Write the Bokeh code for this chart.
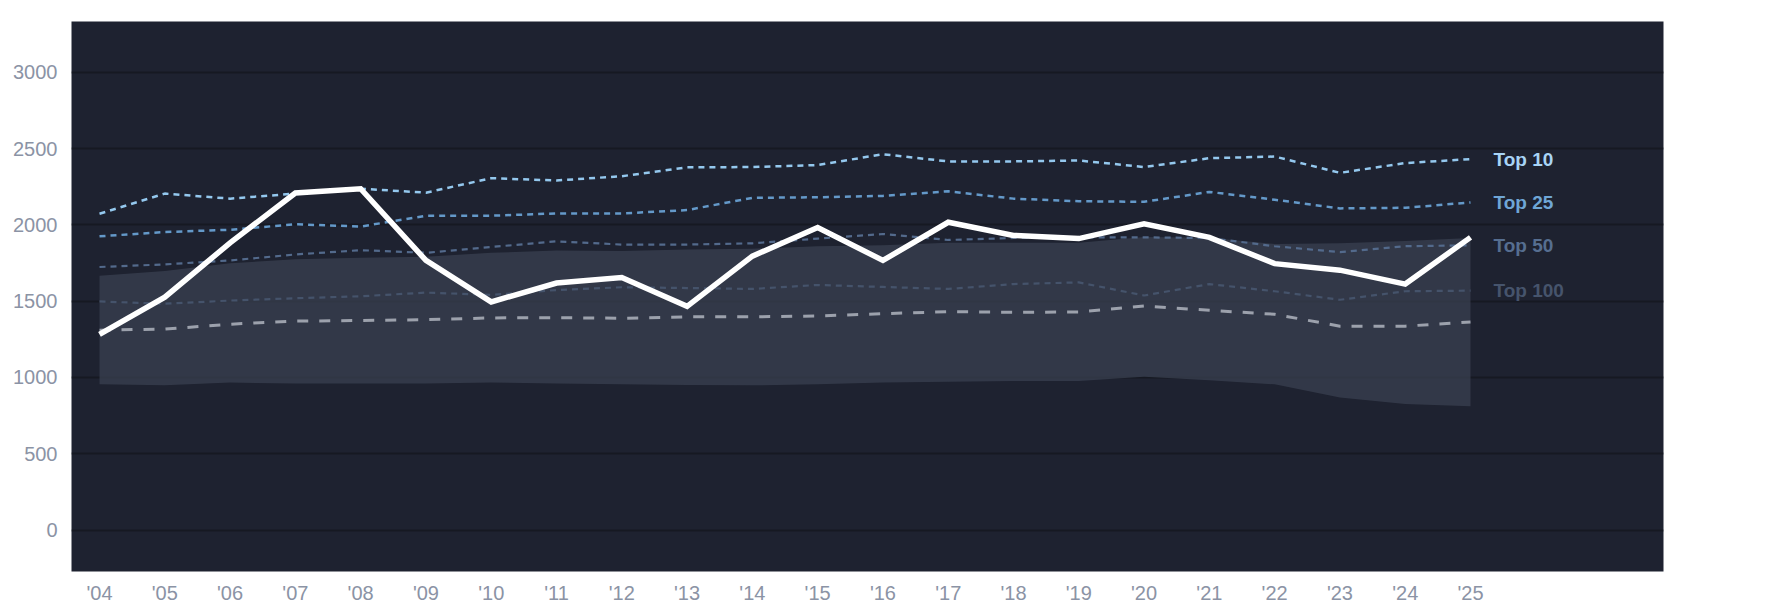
from bokeh.plotting import figure
from bokeh.models import ColumnDataSource, FixedTicker, Range1d
from bokeh.core.properties import value
from bokeh.embed import file_html
from bokeh.resources import INLINE

years = list(range(2004, 2026))
year_labels = ["'" + str(y)[2:] for y in years]

main = [1282, 1526, 1882, 2209, 2237, 1767, 1495, 1619, 1655, 1466, 1795,
        1983, 1767, 2017, 1931, 1910, 2007, 1918, 1746, 1703, 1612, 1918]
top10 = [2073, 2205, 2172, 2205, 2237, 2211, 2306, 2291, 2319, 2377, 2379,
         2392, 2463, 2416, 2416, 2422, 2379, 2437, 2448, 2341, 2405, 2431]
top25 = [1925, 1953, 1968, 2004, 1989, 2060, 2060, 2075, 2075, 2097, 2177,
         2181, 2190, 2220, 2172, 2155, 2151, 2216, 2165, 2108, 2112, 2147]
top50 = [1724, 1741, 1767, 1806, 1834, 1817, 1855, 1892, 1871, 1871, 1879,
         1910, 1940, 1901, 1914, 1918, 1918, 1914, 1860, 1821, 1860, 1866]
top100 = [1498, 1483, 1504, 1519, 1532, 1556, 1541, 1573, 1591, 1586, 1580,
          1606, 1593, 1580, 1612, 1623, 1537, 1612, 1565, 1509, 1565, 1569]
median = [1310, 1317, 1349, 1369, 1373, 1379, 1390, 1392, 1388, 1397, 1397,
          1403, 1418, 1431, 1427, 1429, 1468, 1440, 1414, 1336, 1336, 1364]
band_hi = [1666, 1698, 1748, 1774, 1785, 1791, 1817, 1832, 1828, 1838, 1843,
           1860, 1866, 1882, 1882, 1882, 1920, 1916, 1875, 1880, 1895, 1914]
band_lo = [955, 948, 966, 961, 961, 961, 966, 961, 955, 951, 948,
           955, 966, 972, 976, 976, 1004, 981, 955, 869, 826, 811]

tier_names = ["Top 10", "Top 25", "Top 50", "Top 100"]
tier_series = [top10, top25, top50, top100]
tier_line_colors = ["#94c8ee", "#6499c9", "#536a8c", "#45536b"]
tier_label_colors = ["#a8d4f6", "#6fa6d6", "#566e90", "#46546c"]
y_ticks = [0, 500, 1000, 1500, 2000, 2500, 3000]

BG = "#1e2230"
TICK_COLOR = "#8b93a5"
FONT = "Liberation Sans"

p = figure(width=1777, height=606, output_backend="svg", toolbar_location=None,
           x_range=Range1d(2003.571, 2027.956), y_range=Range1d(-272, 3333),
           min_border_left=71, min_border_top=21, min_border_right=114,
           min_border_bottom=29)
p.background_fill_color = BG
p.border_fill_color = "white"
p.outline_line_color = None

p.xgrid.grid_line_color = None
p.ygrid.grid_line_color = "#161922"
p.ygrid.grid_line_width = 2

for ax in (p.xaxis[0], p.yaxis[0]):
    ax.axis_line_color = None
    ax.major_tick_line_color = None
    ax.minor_tick_line_color = None
    ax.major_tick_out = 0
    ax.major_tick_in = 0
    ax.major_label_text_color = TICK_COLOR
    ax.major_label_text_font = FONT
    ax.major_label_text_font_size = "20px"

p.xaxis.ticker = FixedTicker(ticks=years)
p.xaxis.major_label_overrides = {y: lab for y, lab in zip(years, year_labels)}
p.xaxis.major_label_standoff = 10
p.yaxis.ticker = FixedTicker(ticks=y_ticks)
p.yaxis.major_label_standoff = 14

p.varea(x=years, y1=band_lo, y2=band_hi, fill_color="#3a4050", fill_alpha=0.75)

widths = [2.5, 2.5, 2.2, 2.2]
for ser, col, w in reversed(list(zip(tier_series, tier_line_colors, widths))):
    p.line(years, ser, line_color=col, line_width=w, line_dash="6 5")

p.line(years, median, line_color="#9ca1ac", line_width=3, line_dash="11 11")
p.line(years, main, line_color="white", line_width=5.5, line_join="miter")

lab_src = ColumnDataSource(dict(
    x=[years[-1]] * 4,
    y=[s[-1] for s in tier_series],
    text=tier_names,
    color=tier_label_colors,
))
p.text(x="x", y="y", text="text", source=lab_src, text_color="color",
       text_font=value(FONT), text_font_style="bold", text_font_size="19px",
       text_baseline="middle", text_align="left", x_offset=23)

open("out.html", "w").write(file_html(p, INLINE))
